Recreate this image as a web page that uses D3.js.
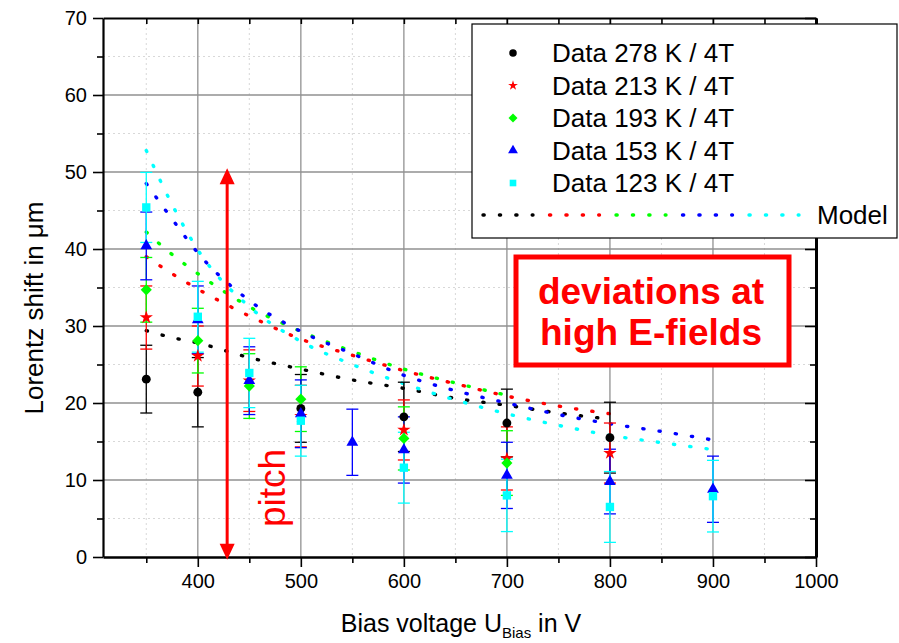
<!DOCTYPE html>
<html>
<head>
<meta charset="utf-8">
<script src="https://cdn.jsdelivr.net/npm/d3@7"></script>
<style>
  html, body { margin: 0; padding: 0; background: #fff; }
  text { font-family: "Liberation Sans", Arial, sans-serif; }
</style>
</head>
<body>
<svg id="chart" width="899" height="643"></svg>
<script>
// ---------------- DATA ----------------
const seriesNames = ["Data 278 K / 4T", "Data 213 K / 4T", "Data 193 K / 4T", "Data 153 K / 4T", "Data 123 K / 4T"];
const seriesColors = ["#000000", "#ff0000", "#00ff00", "#0000ff", "#00ffff"];

const voltsBlack = [350, 400, 500, 600, 700, 800];
const valsBlack  = [23.1, 21.4, 19.3, 18.2, 17.4, 15.5];
const errsBlack  = [4.4, 4.5, 4.4, 4.5, 4.4, 4.6];

const voltsRed = [350, 400, 450, 500, 600, 700, 800];
const valsRed  = [31.1, 26.1, 22.9, 18.3, 16.5, 12.8, 13.5];
const errsRed  = [4.1, 3.9, 4.0, 4.0, 3.9, 4.1, 3.9];

const voltsGreen = [350, 400, 450, 500, 600, 700];
const valsGreen  = [34.7, 28.1, 22.2, 20.5, 15.4, 12.2];
const errsGreen  = [4.2, 4.2, 4.2, 4.2, 4.1, 4.2];

const voltsBlue = [350, 400, 450, 500, 550, 600, 700, 800, 900];
const valsBlue  = [40.4, 30.8, 22.9, 18.6, 14.9, 13.9, 10.6, 9.8, 8.8];
const errsBlue  = [4.4, 4.4, 4.4, 4.4, 4.3, 4.3, 4.3, 4.2, 4.3];

const voltsCyan = [350, 400, 450, 500, 600, 700, 800, 900];
const valsCyan  = [45.4, 31.2, 23.9, 17.7, 11.6, 8.0, 6.5, 7.9];
const errsCyan  = [4.55, 4.6, 4.5, 4.6, 4.6, 4.7, 4.6, 4.65];

// Model curves
const modelVolts = [350, 375, 400, 450, 500, 550, 600, 650, 700, 750, 800, 850, 900];
const modelBlack = [29.4, 28.5, 27.8, 25.9, 24.4, 23.0, 21.9, 20.6, 19.7, 18.7, 17.9];
const modelRed   = [39.0, 36.8, 34.8, 31.3, 28.3, 26.2, 24.2, 22.5, 20.9, 19.6, 18.6];
const modelGreen = [42.2, 39.3, 36.8, 32.5, 29.3, 26.7, 24.4, 22.6, 21.0];
const modelBlue  = [48.5, 43.9, 39.5, 33.3, 29.3, 26.4, 23.6, 21.6, 20.0, 18.5, 17.3, 16.3, 15.2];
const modelCyan  = [52.8, 45.8, 39.9, 32.5, 28.0, 25.0, 22.5, 20.4, 18.6, 17.1, 15.8, 14.85, 13.95];

const xMajorTicks = [400, 500, 600, 700, 800, 900, 1000];
const xMinorTicks = [350, 450, 550, 650, 750, 850, 950];
const yMajorTicks = [0, 10, 20, 30, 40, 50, 60, 70];
const yMinorTicks = [5, 15, 25, 35, 45, 55, 65];

const xTitle = "Bias voltage U";
const xTitleSub = "Bias";
const xTitleEnd = " in V";
const yTitle = "Lorentz shift in μm";
const modelLabel = "Model";
const noteLines = ["deviations at", "high E-fields"];
const pitchLabel = "pitch";
const arrowVolt = 428.5;
const arrowRange = [-0.35, 50.5];

// ---------------- CHART ----------------
const svg = d3.select("#chart");
svg.append("rect").attr("width", 899).attr("height", 643).attr("fill", "#fff");

const PL = 103, PR = 816, PT = 18, PB = 557;
const x = d3.scaleLinear().domain([308, 1000]).range([PL, PR]);
const y = d3.scaleLinear().domain([0, 70]).range([PB, PT]);

// grid
const grid = svg.append("g");
grid.selectAll(".gxm").data(xMinorTicks).join("line")
  .attr("x1", d => x(d)).attr("x2", d => x(d)).attr("y1", PT).attr("y2", PB)
  .attr("stroke", "#d8d8d8").attr("stroke-width", 1).attr("stroke-dasharray", "2,3");
grid.selectAll(".gym").data(yMinorTicks).join("line")
  .attr("x1", PL).attr("x2", PR).attr("y1", d => y(d)).attr("y2", d => y(d))
  .attr("stroke", "#d8d8d8").attr("stroke-width", 1).attr("stroke-dasharray", "2,3");
grid.selectAll(".gx").data(xMajorTicks.filter(d => d < 1000)).join("line")
  .attr("x1", d => x(d)).attr("x2", d => x(d)).attr("y1", PT).attr("y2", PB)
  .attr("stroke", "#a0a0a0").attr("stroke-width", 1.5);
grid.selectAll(".gy").data(yMajorTicks.filter(d => d > 0 && d < 70)).join("line")
  .attr("x1", PL).attr("x2", PR).attr("y1", d => y(d)).attr("y2", d => y(d))
  .attr("stroke", "#909090").attr("stroke-width", 1.3);

// model lines
const modelSets = [modelBlack, modelRed, modelGreen, modelBlue, modelCyan];
const lineGen = d3.line().x(d => x(d[0])).y(d => y(d[1])).curve(d3.curveMonotoneX);
modelSets.forEach((vals, i) => {
  const pts = vals.map((v, k) => [modelVolts[k], v]);
  svg.append("path").attr("d", lineGen(pts))
    .attr("fill", "none").attr("stroke", seriesColors[i])
    .attr("stroke-width", 3.4).attr("stroke-linecap", "round")
    .attr("stroke-dasharray", "1.2,15.2");
});

// data
const dataSets = [
  [voltsBlack, valsBlack, errsBlack],
  [voltsRed, valsRed, errsRed],
  [voltsGreen, valsGreen, errsGreen],
  [voltsBlue, valsBlue, errsBlue],
  [voltsCyan, valsCyan, errsCyan]
];
const symbolFor = [
  d3.symbol(d3.symbolCircle, 62),
  d3.symbol(d3.symbolStar, 55),
  d3.symbol(d3.symbolSquare, 62),
  d3.symbol(d3.symbolTriangle, 60),
  d3.symbol(d3.symbolSquare, 70)
];
const legendSymbolFor = [
  d3.symbol(d3.symbolCircle, 44),
  d3.symbol(d3.symbolStar, 30),
  d3.symbol(d3.symbolSquare, 40),
  d3.symbol(d3.symbolTriangle, 42),
  d3.symbol(d3.symbolSquare, 44)
];
const rot = [0, 0, 45, 0, 0];

dataSets.forEach(([vs, vals, errs], i) => {
  const g = svg.append("g");
  const pts = vs.map((v, k) => ({ v, val: vals[k], e: errs[k] }));
  g.selectAll(".eb").data(pts).join("line")
    .attr("x1", d => x(d.v)).attr("x2", d => x(d.v))
    .attr("y1", d => y(d.val - d.e)).attr("y2", d => y(d.val + d.e))
    .attr("stroke", seriesColors[i]).attr("stroke-width", 1.3);
  ["up", "dn"].forEach(s => {
    g.selectAll(".cap" + s).data(pts).join("line")
      .attr("x1", d => x(d.v) - 6).attr("x2", d => x(d.v) + 6)
      .attr("y1", d => y(s === "up" ? d.val + d.e : d.val - d.e))
      .attr("y2", d => y(s === "up" ? d.val + d.e : d.val - d.e))
      .attr("stroke", seriesColors[i]).attr("stroke-width", 1.3);
  });
});
dataSets.forEach(([vs, vals], i) => {
  svg.append("g").selectAll("path").data(vs.map((v, k) => [v, vals[k]])).join("path")
    .attr("d", symbolFor[i]())
    .attr("transform", d => `translate(${x(d[0])},${y(d[1])}) rotate(${rot[i]})`)
    .attr("fill", seriesColors[i]);
});

// axes
function styleAxis(g, w) {
  g.select(".domain").attr("stroke", "#000").attr("stroke-width", w);
  g.selectAll(".tick line").attr("stroke", "#000").attr("stroke-width", 1.6);
  g.selectAll("text").attr("font-family", "Liberation Sans, Arial, sans-serif")
    .attr("font-size", 20).attr("fill", "#000");
}
const axBottom = svg.append("g").attr("transform", `translate(0,${PB})`)
  .call(d3.axisBottom(x).tickValues(xMajorTicks).tickSize(10).tickSizeOuter(0).tickPadding(7).tickFormat(d3.format("d")));
styleAxis(axBottom, 2.5);
svg.append("g").attr("transform", `translate(0,${PB})`)
  .call(d3.axisBottom(x).tickValues(xMinorTicks).tickSize(6).tickFormat(""))
  .call(g => { g.select(".domain").remove(); g.selectAll("line").attr("stroke", "#000").attr("stroke-width", 1.6); });

const axLeft = svg.append("g").attr("transform", `translate(${PL},0)`)
  .call(d3.axisLeft(y).tickValues(yMajorTicks).tickSize(10).tickSizeOuter(0).tickPadding(6));
styleAxis(axLeft, 2.2);
svg.append("g").attr("transform", `translate(${PL},0)`)
  .call(d3.axisLeft(y).tickValues(yMinorTicks).tickSize(6).tickFormat(""))
  .call(g => { g.select(".domain").remove(); g.selectAll("line").attr("stroke", "#000").attr("stroke-width", 1.6); });

const axTop = svg.append("g").attr("transform", `translate(0,${PT})`)
  .call(d3.axisBottom(x).tickValues(xMajorTicks.concat(xMinorTicks)).tickSize(6).tickSizeOuter(0).tickFormat(""));
styleAxis(axTop, 2.2);
const axRight = svg.append("g").attr("transform", `translate(${PR},0)`)
  .call(d3.axisLeft(y).tickValues(yMajorTicks).tickSize(11).tickSizeOuter(0).tickFormat(""));
styleAxis(axRight, 3);
svg.append("g").attr("transform", `translate(${PR},0)`)
  .call(d3.axisLeft(y).tickValues(yMinorTicks).tickSize(6).tickFormat(""))
  .call(g => { g.select(".domain").remove(); g.selectAll("line").attr("stroke", "#000").attr("stroke-width", 1.6); });

// axis titles
const xt = svg.append("text").attr("x", 461).attr("y", 632).attr("text-anchor", "middle")
  .attr("font-size", 25).attr("fill", "#000");
xt.append("tspan").text(xTitle);
xt.append("tspan").attr("font-size", 15).attr("dy", 6).text(xTitleSub);
xt.append("tspan").attr("dy", -6).text(xTitleEnd);

svg.append("text").attr("transform", "translate(43,308) rotate(-90)")
  .attr("text-anchor", "middle").attr("font-size", 26).attr("fill", "#000").text(yTitle);

// red pitch arrow
const ax = x(arrowVolt), ay0 = y(arrowRange[1]), ay1 = y(arrowRange[0]);
svg.append("line").attr("x1", ax).attr("x2", ax).attr("y1", ay0 + 12).attr("y2", ay1 - 12)
  .attr("stroke", "#ff0000").attr("stroke-width", 3);
svg.append("path").attr("d", `M${ax},${ay0} L${ax - 7.5},${ay0 + 16} L${ax + 7.5},${ay0 + 16} Z`).attr("fill", "#ff0000");
svg.append("path").attr("d", `M${ax},${ay1} L${ax - 7.5},${ay1 - 16} L${ax + 7.5},${ay1 - 16} Z`).attr("fill", "#ff0000");
svg.append("text").attr("transform", "translate(285,488) rotate(-90)")
  .attr("text-anchor", "middle").attr("font-size", 37).attr("fill", "#ff0000").text(pitchLabel);

// legend
const lg = svg.append("g");
lg.append("rect").attr("x", 472).attr("y", 24).attr("width", 425).attr("height", 214)
  .attr("fill", "#fff").attr("stroke", "#000").attr("stroke-width", 1.2);
seriesNames.forEach((name, i) => {
  const cy = 53 + i * 32.5;
  lg.append("path").attr("d", legendSymbolFor[i]())
    .attr("transform", `translate(513,${cy}) rotate(${rot[i]})`).attr("fill", seriesColors[i]);
  lg.append("text").attr("x", 552).attr("y", cy + 9).attr("font-size", 26).attr("fill", "#000").text(name);
});
seriesColors.forEach((c, i) => {
  const x0 = 483 + i * 66.5;
  lg.append("line").attr("x1", x0).attr("x2", x0 + 50).attr("y1", 215).attr("y2", 215)
    .attr("stroke", c).attr("stroke-width", 3.4).attr("stroke-linecap", "round")
    .attr("stroke-dasharray", "1.2,15.2");
});
lg.append("text").attr("x", 817).attr("y", 224).attr("font-size", 26).attr("fill", "#000").text(modelLabel);

// note box
svg.append("rect").attr("x", 516).attr("y", 257).attr("width", 273).attr("height", 108)
  .attr("fill", "#fff").attr("stroke", "#ff0000").attr("stroke-width", 5);
noteLines.forEach((t, i) => {
  svg.append("text").attr("x", 651).attr("y", 304 + i * 41).attr("text-anchor", "middle")
    .attr("font-size", 37).attr("font-weight", "bold").attr("fill", "#ff0000").text(t);
});
</script>
</body>
</html>
